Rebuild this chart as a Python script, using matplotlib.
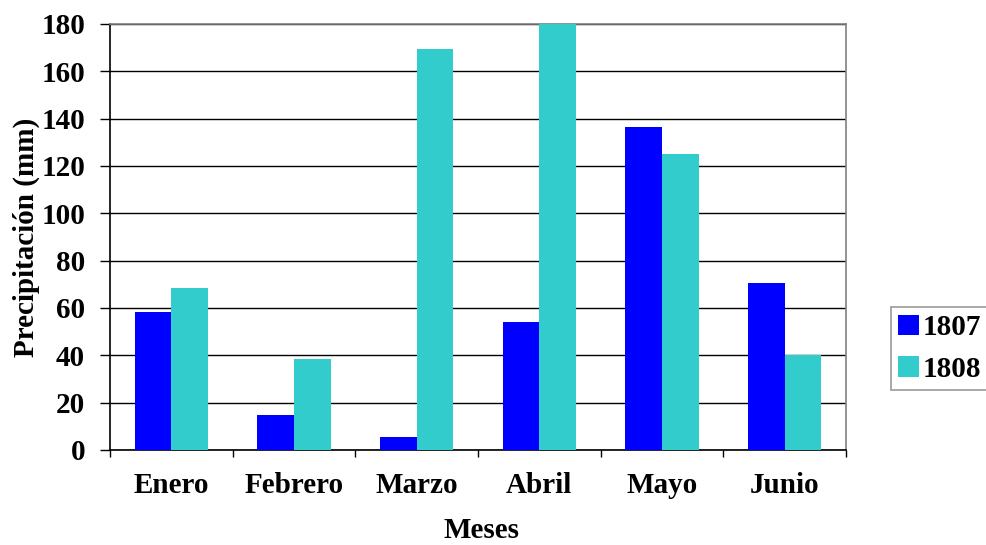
import numpy as np
import matplotlib
matplotlib.use("Agg")
import matplotlib.pyplot as plt
from matplotlib.patches import Patch

meses = ["Enero", "Febrero", "Marzo", "Abril", "Mayo", "Junio"]
prec_1807 = [58.5, 15.0, 5.5, 54.0, 136.5, 70.5]
prec_1808 = [68.5, 38.5, 169.5, 180.0, 125.0, 40.0]
yticks = list(range(0, 181, 20))

plt.rcParams['font.family'] = ['Liberation Serif', 'DejaVu Serif']
plt.rcParams['font.weight'] = 'bold'
FS = 21

fig = plt.figure(figsize=(9.86, 5.45), dpi=100)
ax = fig.add_axes([110 / 986, 1 - 450 / 545, 736 / 986, 426 / 545])

x = np.arange(len(meses))
w = 0.3
ax.bar(x - w / 2, prec_1807, width=w, color="#0000ff", label="1807", zorder=3)
ax.bar(x + w / 2, prec_1808, width=w, color="#33cccc", label="1808", zorder=3)

ax.set_xlim(-0.5, len(meses) - 0.5)
ax.set_ylim(0, 180)
ax.set_yticks(yticks)
ax.set_yticklabels([str(t) for t in yticks], fontsize=FS, fontweight='bold')
ax.yaxis.grid(True, color="black", linewidth=1, zorder=0)

ax.set_xticks(x)
ax.set_xticklabels(meses, fontsize=FS, fontweight='bold')
ax.set_xticks(np.arange(-0.5, len(meses), 1), minor=True)
ax.tick_params(axis='x', which='major', length=0, pad=16)
ax.tick_params(axis='x', which='minor', length=5, width=1, direction='out')
ax.tick_params(axis='y', length=7, width=1, direction='out', pad=11)

for s in ["left", "bottom"]:
    ax.spines[s].set_color("black")
    ax.spines[s].set_linewidth(1.2)
for s in ["top", "right"]:
    ax.spines[s].set_color("#808080")
    ax.spines[s].set_linewidth(1.2)

ax.set_ylabel("Precipitación (mm)", fontsize=FS, fontweight='bold', labelpad=1)
# x-axis title sits close to the bottom edge
fig.text(482 / 986, 1.5 / 545, "Meses", fontsize=FS, fontweight='bold',
         ha='center', va='bottom')

handles = [Patch(facecolor="#0000ff", label="1807"),
           Patch(facecolor="#33cccc", label="1808")]
leg = fig.legend(handles=handles, loc="upper left",
                 bbox_to_anchor=(891 / 986, 1 - 307 / 545),
                 prop={'size': FS, 'weight': 'bold'},
                 frameon=True, fancybox=False, handlelength=0.7,
                 handleheight=0.7, handletextpad=0.15, borderpad=0.25,
                 labelspacing=0.5, borderaxespad=0)
leg.get_frame().set_edgecolor("#808080")
leg.get_frame().set_linewidth(1.2)

fig.savefig("out.png", dpi=100)
